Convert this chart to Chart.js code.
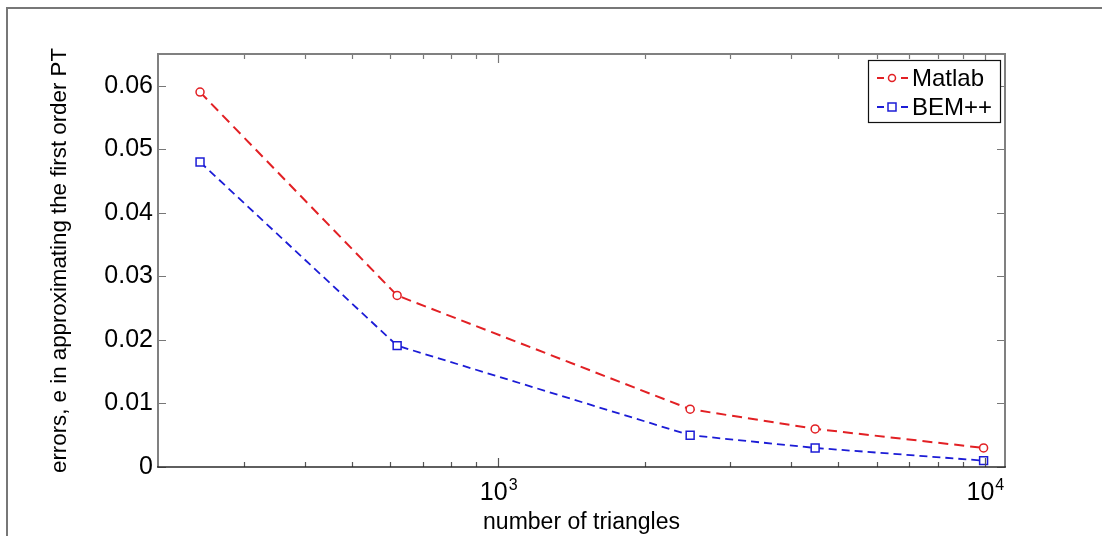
<!DOCTYPE html>
<html>
<head>
<meta charset="utf-8">
<script src="https://cdn.jsdelivr.net/npm/chart.js@4"></script>
<style>
  body { margin: 0; background: #fff; }
  #wrap { width: 1102px; height: 536px; }
</style>
</head>
<body>
<div id="wrap"><canvas id="errChart" width="1102" height="536"></canvas></div>
<script>
// number of triangles in each mesh
const triangles = [244, 620, 2480, 4480, 9940];
const matlabErr = [0.059, 0.027, 0.0091, 0.006, 0.003];
const bemErr = [0.048, 0.0191, 0.005, 0.003, 0.001];
const xTickValues = [300, 400, 500, 600, 700, 800, 900, 1000, 2000, 3000, 4000, 5000, 6000, 7000, 8000, 9000, 10000];
const xMajorTicks = [1000, 10000];
const seriesNames = ['Matlab', 'BEM++'];

const FONT = "'Liberation Sans', Arial, sans-serif";
const RED = 'rgb(226,32,36)';
const BLUE = 'rgb(28,28,214)';

function pts(ys) {
  return triangles.map((t, i) => ({ x: t, y: ys[i] }));
}

// matlab style box, inward ticks, 10^n labels and legend
const matlabAxes = {
  id: 'matlabAxes',
  beforeDraw(chart) {
    const c = chart.ctx;
    c.save();
    c.strokeStyle = '#777';
    c.lineWidth = 2;
    c.beginPath();
    c.moveTo(7, 536); c.lineTo(7, 8); c.lineTo(1102, 8);
    c.stroke();
    c.restore();
  },
  afterDatasetsDraw(chart) {
    const c = chart.ctx;
    const a = chart.chartArea;
    const xs = chart.scales.x, ys = chart.scales.y;
    c.save();
    // y ticks
    c.strokeStyle = '#777';
    c.lineWidth = 1.2;
    ys.ticks.forEach(t => {
      const py = Math.round(ys.getPixelForValue(t.value)) + 0.5;
      c.beginPath();
      c.moveTo(a.left, py); c.lineTo(a.left + 8, py);
      c.moveTo(a.right, py); c.lineTo(a.right - 8, py);
      c.stroke();
    });
    // x ticks
    xs.ticks.forEach(t => {
      const px = Math.round(xs.getPixelForValue(t.value)) + 0.5;
      const len = xMajorTicks.includes(t.value) ? 9 : 5;
      c.strokeStyle = '#555';
      c.beginPath();
      c.moveTo(px, a.bottom); c.lineTo(px, a.bottom - len);
      c.stroke();
      c.strokeStyle = '#777';
      c.beginPath();
      c.moveTo(px, a.top); c.lineTo(px, a.top + len);
      c.stroke();
    });
    // box
    c.strokeStyle = '#808080';
    c.lineWidth = 2;
    c.beginPath();
    c.moveTo(a.left, a.bottom); c.lineTo(a.left, a.top); c.lineTo(a.right, a.top); c.lineTo(a.right, a.bottom);
    c.stroke();
    c.strokeStyle = '#2a2a2a';
    c.lineWidth = 1.6;
    c.beginPath();
    c.moveTo(a.left - 1, a.bottom); c.lineTo(a.right + 1, a.bottom);
    c.stroke();
    // 10^n labels
    c.fillStyle = '#000';
    c.textBaseline = 'alphabetic';
    xMajorTicks.forEach(v => {
      const px = xs.getPixelForValue(v);
      const exp = String(Math.round(Math.log10(v)));
      c.font = '25px ' + FONT;
      const w1 = c.measureText('10').width;
      c.font = '16px ' + FONT;
      const w2 = c.measureText(exp).width;
      const x0 = px - (w1 + w2) / 2;
      c.font = '25px ' + FONT;
      c.fillText('10', x0, a.bottom + 33);
      c.font = '16px ' + FONT;
      c.fillText(exp, x0 + w1 + 1, a.bottom + 23);
    });
    c.restore();
  },
  afterDraw(chart) {
    const c = chart.ctx;
    const a = chart.chartArea;
    const bx = a.right - 137, by = a.top + 6, bw = 132, bh = 62;
    c.save();
    c.fillStyle = '#fff';
    c.fillRect(bx, by, bw, bh);
    c.strokeStyle = '#111';
    c.lineWidth = 1.2;
    c.strokeRect(bx + 0.5, by + 0.5, bw, bh);
    chart.data.datasets.forEach((ds, i) => {
      const cy = by + 18 + i * 29;
      c.strokeStyle = ds.borderColor;
      c.lineWidth = 1.8;
      c.setLineDash([7, 5]);
      c.beginPath();
      c.moveTo(bx + 9, cy); c.lineTo(bx + 40, cy);
      c.stroke();
      c.setLineDash([]);
      c.fillStyle = '#fff';
      c.lineWidth = 1.5;
      c.beginPath();
      if (ds.pointStyle === 'rect') {
        c.rect(bx + 20, cy - 4, 8, 8);
      } else {
        c.arc(bx + 24, cy, 3.5, 0, Math.PI * 2);
      }
      c.fill();
      c.stroke();
      c.fillStyle = '#000';
      c.font = '24px ' + FONT;
      c.textBaseline = 'middle';
      c.fillText(ds.label, bx + 44, cy + 1);
    });
    c.restore();
  }
};

new Chart(document.getElementById('errChart'), {
  type: 'line',
  data: {
    datasets: [{
      label: seriesNames[0],
      data: pts(matlabErr),
      borderColor: RED,
      borderWidth: 2,
      borderDash: [10, 6],
      pointStyle: 'circle',
      pointRadius: 4,
      pointBorderWidth: 1.5,
      pointBackgroundColor: '#fff',
      pointBorderColor: RED,
      tension: 0
    }, {
      label: seriesNames[1],
      data: pts(bemErr),
      borderColor: BLUE,
      borderWidth: 1.8,
      borderDash: [8, 5],
      pointStyle: 'rect',
      pointRadius: 5.6,
      pointBorderWidth: 1.5,
      pointBackgroundColor: '#fff',
      pointBorderColor: BLUE,
      tension: 0
    }]
  },
  options: {
    responsive: false,
    animation: false,
    layout: { padding: { top: 54, right: 97, left: 0, bottom: 0 } },
    plugins: { legend: { display: false }, tooltip: { enabled: false } },
    scales: {
      x: {
        type: 'logarithmic',
        min: 200,
        max: 11000,
        grid: { display: false },
        border: { display: false },
        ticks: { display: false },
        afterBuildTicks: axis => { axis.ticks = xTickValues.map(v => ({ value: v })); },
        afterFit: axis => { axis.height = 69; },
        title: {
          display: true,
          text: 'number of triangles',
          color: '#000',
          font: { family: FONT, size: 23 },
          padding: { top: 6, bottom: 0 }
        }
      },
      y: {
        min: 0,
        max: 0.065,
        grid: { display: false, drawTicks: false },
        border: { display: false },
        ticks: {
          stepSize: 0.01,
          includeBounds: false,
          padding: 5,
          color: '#000',
          font: { family: FONT, size: 25 },
          callback: v => v === 0 ? '0' : v.toFixed(2)
        },
        afterFit: axis => { axis.width = 158; },
        title: {
          display: true,
          text: 'errors, e in approximating the first order PT',
          color: '#000',
          font: { family: FONT, size: 22.3 },
          padding: { top: 46, bottom: 0 }
        }
      }
    }
  },
  plugins: [matlabAxes]
});
</script>
</body>
</html>
